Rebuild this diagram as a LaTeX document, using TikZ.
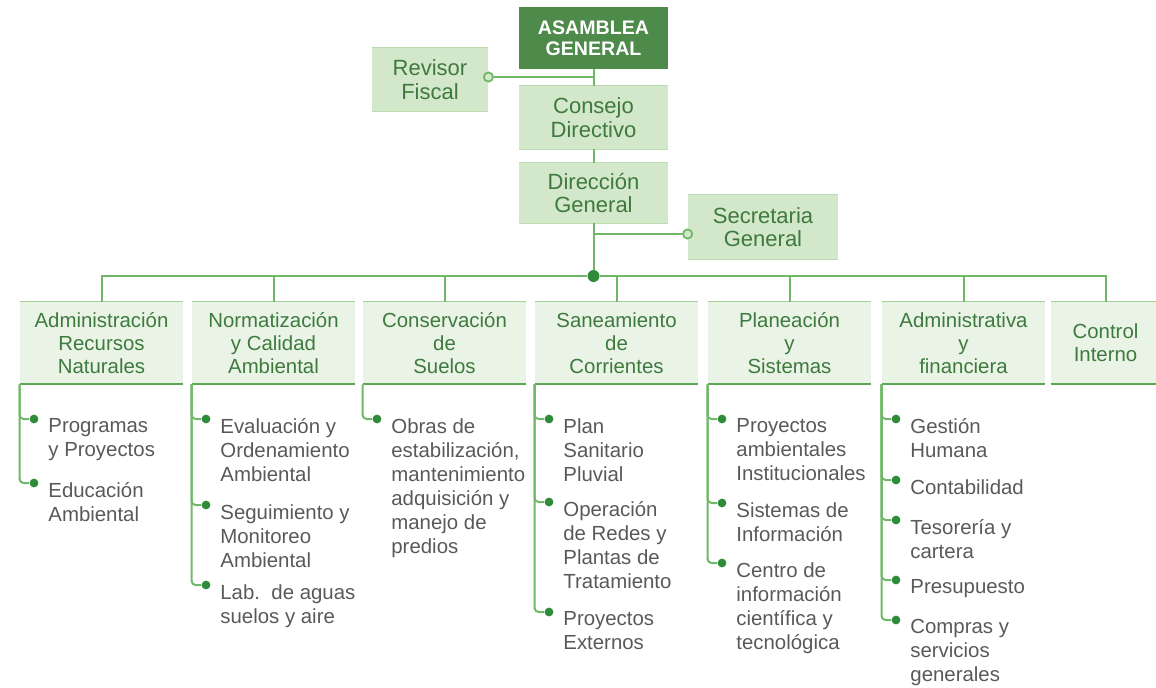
\documentclass[tikz,border=0pt]{standalone}
\usepackage{fontspec}
\setmainfont{Liberation Sans}

\definecolor{asamfill}{HTML}{4E8A4A}
\definecolor{topfill}{HTML}{D3E7CA}
\definecolor{topedge}{HTML}{BCDBAE}
\definecolor{unitfill}{HTML}{EAF4E6}
\definecolor{unittop}{HTML}{A3D199}
\definecolor{unitbot}{HTML}{5DA754}
\definecolor{wirecol}{HTML}{70B868}
\definecolor{dotgreen}{HTML}{2E8B3A}
\definecolor{labelgreen}{HTML}{3E7A3E}
\definecolor{itemgray}{HTML}{595959}

\tikzset{
  wire/.style={draw=wirecol, line width=1pt},
  asambox/.style={fill=asamfill, text=white, align=center, inner sep=0pt,
    minimum width=74.5pt, minimum height=31pt,
    font=\bfseries\fontsize{9.8}{10.75}\selectfont},
  topbox/.style={fill=topfill, text=labelgreen, align=center, inner sep=0pt,
    minimum width=74.5pt, minimum height=31.5pt,
    font=\fontsize{11}{11.75}\selectfont,
    append after command={(\tikzlastnode.north west) edge[draw=topedge, line width=0.7pt] (\tikzlastnode.north east)
      (\tikzlastnode.south west) edge[draw=topedge, line width=0.9pt] (\tikzlastnode.south east)}},
  unitbox/.style={fill=unitfill, text=labelgreen, align=center, inner sep=0pt,
    minimum width=81.5pt, minimum height=41pt,
    font=\fontsize{10.2}{11.5}\selectfont,
    append after command={(\tikzlastnode.north west) edge[draw=unittop, line width=0.7pt] (\tikzlastnode.north east)
      (\tikzlastnode.south west) edge[draw=unitbot, line width=1pt] (\tikzlastnode.south east)}},
  openring/.style={circle, draw=wirecol, line width=0.9pt, fill=topfill, inner sep=0pt, minimum size=4.6pt},
  hubdot/.style={circle, fill=dotgreen, inner sep=0pt, minimum size=6pt},
  itemdot/.style={circle, fill=dotgreen, inner sep=0pt, minimum size=4.4pt},
  itemtext/.style={anchor=north west, align=left, inner sep=0pt, text=itemgray,
    font=\fontsize{10.2}{12}\selectfont},
}

\begin{document}
\begin{tikzpicture}[x=0.5pt, y=-0.5pt]
    \useasboundingbox (0,0) rectangle (1156,687);

    % top of the chart
    \node[asambox] at (593.5, 38)    (asam) {ASAMBLEA\\GENERAL};
    \node[topbox, minimum width=58pt] at (430, 79.5) (rev) {Revisor\\Fiscal};
    \node[topbox]  at (593.5, 117.5) (cons) {Consejo\\Directivo};
    \node[topbox, minimum height=30pt] at (593.5, 193) (dir) {Dirección\\General};
    \node[topbox, minimum width=75pt, minimum height=32pt] at (763, 227) (sec) {Secretaria\\General};

    \node[openring] at ([yshift=1.25pt]rev.east) (revring) {};
    \node[openring] at ([yshift=-3.5pt]sec.west) (secring) {};
    \node[hubdot]   at (593.5, 276) (hub) {};

    \draw[wire] (asam.south) -- (cons.north);
    \draw[wire] (revring) -| (asam.south);
    \draw[wire] (cons.south) -- (dir.north);
    \draw[wire] (dir.south) |- (secring);
    \draw[wire] (dir.south) -- (hub);

    % units
    \node[unitbox] at (101.5, 343) (u1) {Administración\\Recursos\\Naturales};
    \node[unitbox] at (273.5, 343) (u2) {Normatización\\y Calidad\\Ambiental};
    \node[unitbox] at (444.5, 343) (u3) {Conservación\\de\\Suelos};
    \node[unitbox] at (616.5, 343) (u4) {Saneamiento\\de\\Corrientes};
    \node[unitbox] at (789.5, 343) (u5) {Planeación\\y\\Sistemas};
    \node[unitbox] at (963.5, 343) (u6) {Administrativa\\y\\financiera};
    \node[unitbox, minimum width=54.5pt] at (1105.5, 343) (u7) {Control\\Interno};

    \foreach \k in {1,...,7}
        \draw[wire] (hub) -| (u\k.north);

    % lists under the units
    \foreach \y/\txt [count=\i] in {419/{Programas\\y Proyectos}, 483/{Educación\\Ambiental}} {
        \node[itemdot] at (34, \y) (d1\i) {};
        \node[itemtext] at (48, \y-1) (t1\i) {\txt};
        \draw[wire, rounded corners=2pt] (u1.south west) |- (d1\i);
    }
    \foreach \y/\txt [count=\i] in {419/{Evaluación y\\Ordenamiento\\Ambiental}, 505/{Seguimiento y\\Monitoreo\\Ambiental},
                                    585/{Lab.\ \ de aguas\\suelos y aire}} {
        \node[itemdot] at (206, \y) (d2\i) {};
        \node[itemtext] at (220, \y-1) (t2\i) {\txt};
        \draw[wire, rounded corners=2pt] (u2.south west) |- (d2\i);
    }
    \foreach \y/\txt [count=\i] in {419/{Obras de\\estabilización,\\mantenimiento\\adquisición y\\manejo de\\predios}} {
        \node[itemdot] at (377, \y) (d3\i) {};
        \node[itemtext] at (391, \y-1) (t3\i) {\txt};
        \draw[wire, rounded corners=2pt] (u3.south west) |- (d3\i);
    }
    \foreach \y/\txt [count=\i] in {419/{Plan\\Sanitario\\Pluvial}, 502/{Operación\\de Redes y\\Plantas de\\Tratamiento},
                                    612/{Proyectos\\Externos}} {
        \node[itemdot] at (549, \y) (d4\i) {};
        \node[itemtext] at (563, \y-1) (t4\i) {\txt};
        \draw[wire, rounded corners=2pt] (u4.south west) |- (d4\i);
    }
    \foreach \y/\txt [count=\i] in {419/{Proyectos\\ambientales\\Institucionales}, 503/{Sistemas de\\Información},
                                    563/{Centro de\\información\\científica y\\tecnológica}} {
        \node[itemdot] at (722, \y) (d5\i) {};
        \node[itemtext] at (736, \y-1) (t5\i) {\txt};
        \draw[wire, rounded corners=2pt] (u5.south west) |- (d5\i);
    }
    \foreach \y/\txt [count=\i] in {419/{Gestión\\Humana}, 480/{Contabilidad}, 520/{Tesorería y\\cartera},
                                    580/{Presupuesto}, 620/{Compras y\\servicios\\generales}} {
        \node[itemdot] at (896, \y) (d6\i) {};
        \node[itemtext] at (910, \y-1) (t6\i) {\txt};
        \draw[wire, rounded corners=2pt] (u6.south west) |- (d6\i);
    }
\end{tikzpicture}
\end{document}
